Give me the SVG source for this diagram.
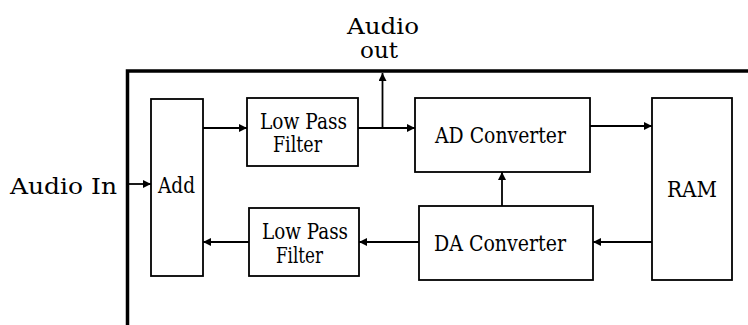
<svg xmlns="http://www.w3.org/2000/svg" width="748" height="325" viewBox="0 0 748 325">
<defs>
<marker id="ah" viewBox="0 0 8 8" refX="8" refY="4" markerWidth="8" markerHeight="8" markerUnits="userSpaceOnUse" orient="auto">
<path d="M0,0 L8,4 L0,8 Z" fill="#000"/>
</marker>
</defs>
<style>
.box{fill:#fff;stroke:#000;stroke-width:1.8}
.wire{fill:none;stroke:#000;stroke-width:1.8}
.arr{fill:none;stroke:#000;stroke-width:1.8;marker-end:url(#ah)}
.border{fill:none;stroke:#000;stroke-width:3.5}
text{font-family:"DejaVu Serif","Liberation Serif",serif;font-size:22px;fill:#000}
</style>
<rect width="748" height="325" fill="#fff"/>
<path class="border" d="M127.5,325 V71 H748"/>
<g id="audio-in"><text x="10" y="194" textLength="107" lengthAdjust="spacingAndGlyphs" font-size="24">Audio In</text></g>
<g id="audio-out">
<text x="347" y="34" textLength="72" lengthAdjust="spacingAndGlyphs" font-size="24">Audio</text>
<text x="360" y="58" textLength="38" lengthAdjust="spacingAndGlyphs" font-size="24">out</text>
</g>
<g id="add"><rect class="box" x="151" y="99" width="52" height="177"/><text x="158" y="193" textLength="37" lengthAdjust="spacingAndGlyphs">Add</text></g>
<g id="lpf1"><rect class="box" x="247" y="98" width="111" height="68"/>
<text x="260" y="129" textLength="87" lengthAdjust="spacingAndGlyphs">Low Pass</text>
<text x="273" y="152" textLength="49" lengthAdjust="spacingAndGlyphs">Filter</text></g>
<g id="ad"><rect class="box" x="415" y="98" width="175" height="74"/>
<text x="435" y="143" textLength="131" lengthAdjust="spacingAndGlyphs">AD Converter</text></g>
<g id="ram"><rect class="box" x="652" y="98" width="80" height="182"/>
<text x="667" y="197" textLength="50" lengthAdjust="spacingAndGlyphs">RAM</text></g>
<g id="da"><rect class="box" x="419" y="206" width="174" height="74"/>
<text x="434" y="251" textLength="132" lengthAdjust="spacingAndGlyphs">DA Converter</text></g>
<g id="lpf2"><rect class="box" x="249" y="208" width="110" height="68"/>
<text x="262" y="239" textLength="86" lengthAdjust="spacingAndGlyphs">Low Pass</text>
<text x="276" y="263" textLength="47" lengthAdjust="spacingAndGlyphs">Filter</text></g>
<g id="connectors">
<line class="arr" x1="129" y1="184" x2="151" y2="184"/>
<line class="arr" x1="203" y1="128" x2="247" y2="128"/>
<line class="arr" x1="358" y1="128" x2="415" y2="128"/>
<line class="arr" x1="382.5" y1="128" x2="382.5" y2="73"/>
<line class="arr" x1="590" y1="126" x2="652" y2="126"/>
<line class="arr" x1="502" y1="206" x2="502" y2="172"/>
<line class="arr" x1="652" y1="242" x2="593" y2="242"/>
<line class="arr" x1="419" y1="242" x2="359" y2="242"/>
<line class="arr" x1="249" y1="242" x2="203" y2="242"/>
</g>
</svg>
